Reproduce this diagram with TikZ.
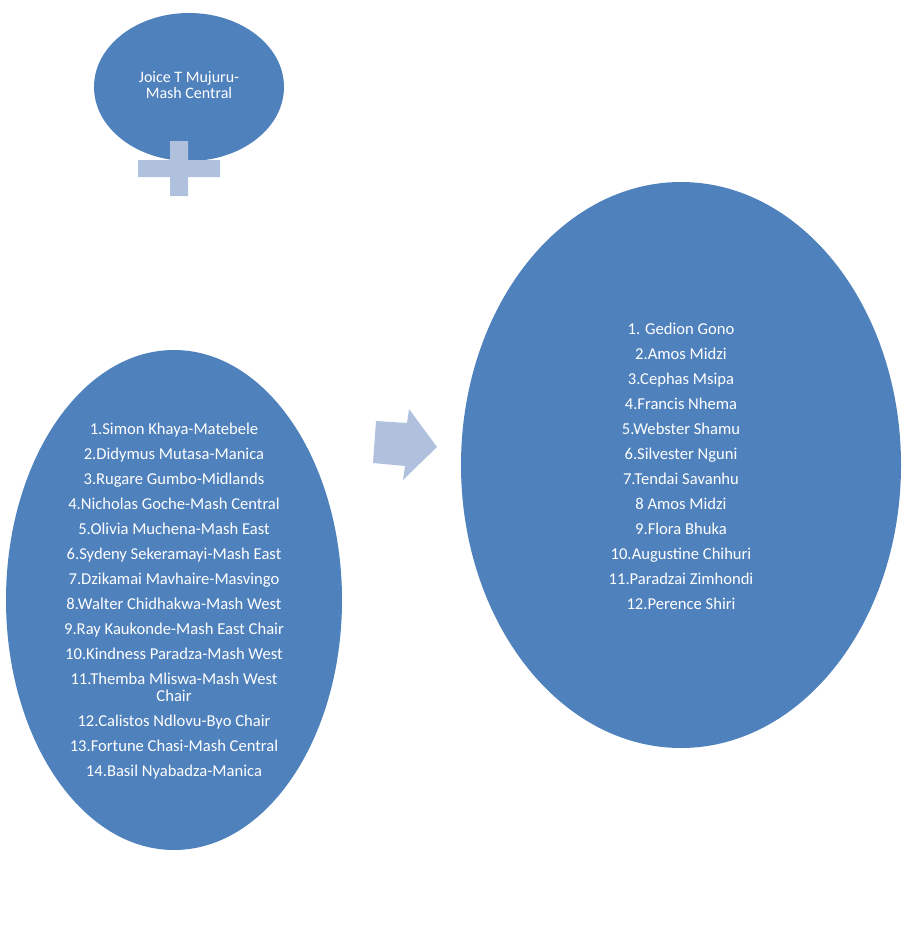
\documentclass[tikz,border=0pt]{standalone}
\usepackage{fontspec}
\setmainfont{Carlito}
\usetikzlibrary{shapes.geometric}
\definecolor{ovalblue}{HTML}{4F81BD}
\definecolor{signblue}{HTML}{B0C1DE}

\begin{document}
\begin{tikzpicture}[
  x=1pt, y=-1pt,
  oval/.style={ellipse, fill=ovalblue, inner sep=0pt},
  names/.style={text=white, align=center, inner sep=0pt, font=\fontsize{16.6}{17}\selectfont},
  sign/.style={fill=signblue},
]
  \useasboundingbox (0,0) rectangle (905,929);

  % Leader
  \node[oval, minimum width=190pt, minimum height=148pt] (lead) at (189,87) {};
  \node[names, font=\fontsize{16}{16}\selectfont] (leadtext) at (189,85) {Joice T Mujuru-\\Mash Central};
  \fill[sign] (138,160) rectangle (220,177) (170,141) rectangle (188,196);

  % Left list
  \node[oval, minimum width=336pt, minimum height=500pt] (members) at (174,600) {};
  \node[names] (memberstext) at (174,601.5) {%
    1.Simon Khaya-Matebele\\[8pt]
    2.Didymus Mutasa-Manica\\[8pt]
    3.Rugare Gumbo-Midlands\\[8pt]
    4.Nicholas Goche-Mash Central\\[8pt]
    5.Olivia Muchena-Mash East\\[8pt]
    6.Sydeny Sekeramayi-Mash East\\[8pt]
    7.Dzikamai Mavhaire-Masvingo\\[8pt]
    8.Walter Chidhakwa-Mash West\\[8pt]
    9.Ray Kaukonde-Mash East Chair\\[8pt]
    10.Kindness Paradza-Mash West\\[8pt]
    11.Themba Mliswa-Mash West\\
    Chair\\[8pt]
    12.Calistos Ndlovu-Byo Chair\\[8pt]
    13.Fortune Chasi-Mash Central\\[8pt]
    14.Basil Nyabadza-Manica};

  % Arrow
  \fill[sign] (376,421) -- (407,423) -- (409,409) -- (437,447) -- (403,480) -- (405,466) -- (373,463) -- cycle;

  % Right list
  \node[oval, minimum width=440pt, minimum height=566pt] (others) at (681,465) {};
  \node[names] (otherstext) at (681,466) {%
    1. Gedion Gono\\[8pt]
    2.Amos Midzi\\[8pt]
    3.Cephas Msipa\\[8pt]
    4.Francis Nhema\\[8pt]
    5.Webster Shamu\\[8pt]
    6.Silvester Nguni\\[8pt]
    7.Tendai Savanhu\\[8pt]
    8 Amos Midzi\\[8pt]
    9.Flora Bhuka\\[8pt]
    10.Augustine Chihuri\\[8pt]
    11.Paradzai Zimhondi\\[8pt]
    12.Perence Shiri};
\end{tikzpicture}
\end{document}
